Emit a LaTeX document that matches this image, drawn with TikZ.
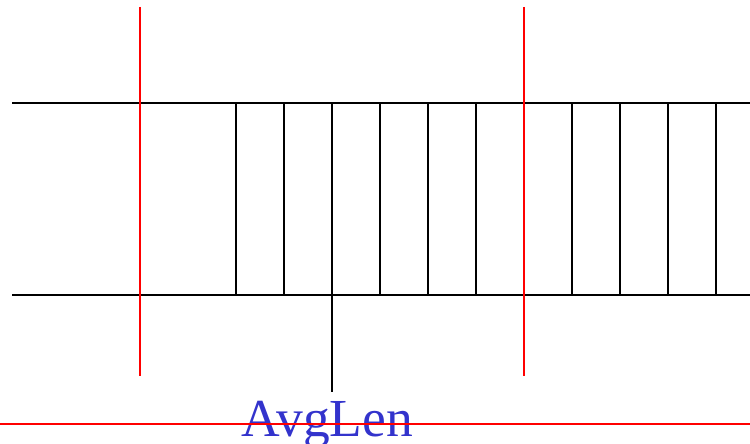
\documentclass[tikz,border=0pt]{standalone}
\usepackage{fontspec}
\setmainfont{Liberation Serif}
\definecolor{txtblue}{RGB}{51,51,204}
\begin{document}
\begin{tikzpicture}[x=1pt,y=-1pt,
  blk/.style={line width=2pt,black},
  redl/.style={line width=2pt,red}]
\useasboundingbox (0,0) rectangle (750,444);
\clip (0,0) rectangle (750,444);
% rails
\draw[blk] (12,103) -- (750,103);
\draw[blk] (12,295) -- (750,295);
% ties
\foreach \x in {236,284,332,380,428,476,572,620,668,716}
  \draw[blk] (\x,103) -- (\x,295);
\draw[blk] (332,295) -- (332,392);
% red markers
\draw[redl] (140,7) -- (140,376);
\draw[redl] (524,7) -- (524,376);
% label
\node[anchor=base,inner sep=0pt,text=txtblue,font=\fontsize{53.5}{60}\selectfont] (lbl) at (327.5,436) {AvgLen};
\draw[redl] (0,424) -- (750,424);
\end{tikzpicture}
\end{document}
